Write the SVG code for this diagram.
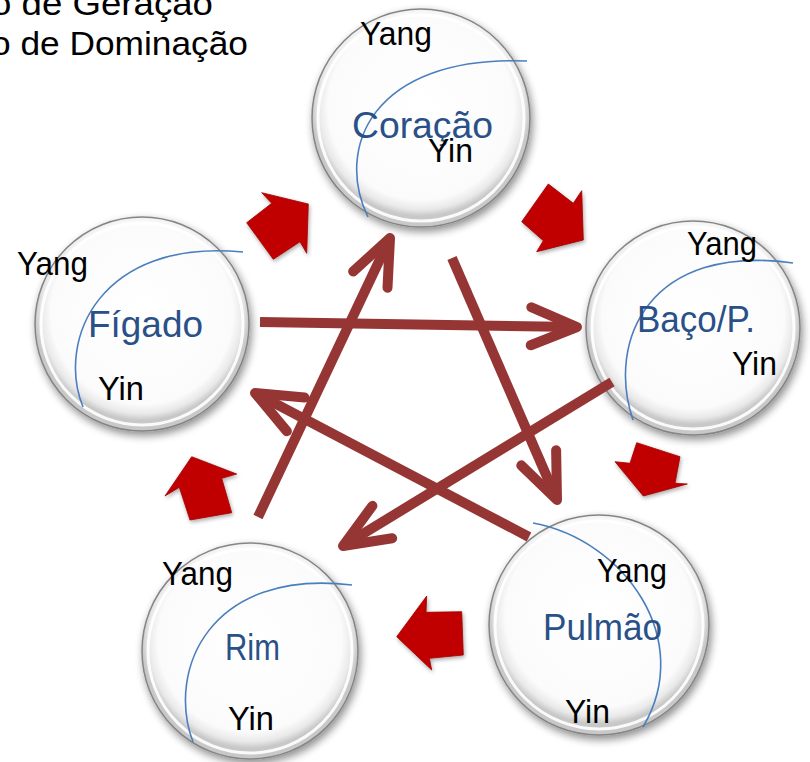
<svg xmlns="http://www.w3.org/2000/svg" width="810" height="762" viewBox="0 0 810 762">
<defs>
<radialGradient id="btn" cx="50%" cy="45%" r="50%">
<stop offset="0" stop-color="#ffffff"/>
<stop offset="0.85" stop-color="#fbfbfb"/>
<stop offset="0.94" stop-color="#e9e9e9"/>
<stop offset="1" stop-color="#c8c8c8"/>
</radialGradient>
<filter id="sh" x="-20%" y="-20%" width="140%" height="140%">
<feGaussianBlur in="SourceAlpha" stdDeviation="4"/>
<feOffset dx="2" dy="4" result="b"/>
<feComponentTransfer><feFuncA type="linear" slope="0.45"/></feComponentTransfer>
<feMerge><feMergeNode/><feMergeNode in="SourceGraphic"/></feMerge>
</filter>
<filter id="ash" x="-20%" y="-20%" width="140%" height="140%">
<feGaussianBlur in="SourceAlpha" stdDeviation="2"/>
<feOffset dx="1" dy="2" result="b"/>
<feComponentTransfer><feFuncA type="linear" slope="0.35"/></feComponentTransfer>
<feMerge><feMergeNode/><feMergeNode in="SourceGraphic"/></feMerge>
</filter>
<marker id="ah" markerUnits="userSpaceOnUse" viewBox="-60 -30 70 60" refX="0" refY="0" markerWidth="70" markerHeight="60" orient="auto" overflow="visible">
<path d="M-46,-19 L0,0 L-46,19" fill="none" stroke="#963634" stroke-width="10" stroke-linecap="round" stroke-linejoin="round"/>
</marker>
</defs>
<style>
.ring{fill:url(#btn);stroke:#858585;stroke-width:1.5}
.inner{fill:none;stroke:#ffffff;stroke-width:3;opacity:0.9}
.arc{fill:none;stroke:#4a7ebf;stroke-width:1.6}
.yy{font-family:"Liberation Sans",Arial,sans-serif;font-size:33px;fill:#000}
.org{font-family:"Liberation Sans",Arial,sans-serif;font-size:37px;fill:#2a5088}
.hdr{font-family:"Liberation Sans",Arial,sans-serif;font-size:34px;fill:#000}
.blk{fill:#c00000;stroke:#a00000;stroke-width:0.8;stroke-linejoin:miter}
.star{fill:none;stroke:#963634;stroke-width:10;marker-end:url(#ah)}
</style>

<g id="legend">
<text class="hdr" x="-9" y="15" textLength="222" lengthAdjust="spacingAndGlyphs">o de Geração</text>
<text class="hdr" x="-9" y="55" textLength="257" lengthAdjust="spacingAndGlyphs">o de Dominação</text>
</g>

<g id="node-coracao">
<circle class="ring" cx="421" cy="118" r="109" filter="url(#sh)"/>
<circle class="inner" cx="421" cy="118" r="103"/>
<path class="arc" d="M368,217 C335,150 370,55 527,61"/>
<text class="yy" x="360" y="45" textLength="72" lengthAdjust="spacingAndGlyphs">Yang</text>
<text class="org" x="352" y="138" textLength="141" lengthAdjust="spacingAndGlyphs">Coração</text>
<text class="yy" x="428" y="162" textLength="45" lengthAdjust="spacingAndGlyphs">Yin</text>
</g>

<g id="node-baco">
<circle class="ring" cx="693" cy="328" r="107" filter="url(#sh)"/>
<circle class="inner" cx="693" cy="328" r="101"/>
<path class="arc" d="M633,420 C606,340 650,243 793,263"/>
<text class="yy" x="687" y="255" textLength="70" lengthAdjust="spacingAndGlyphs">Yang</text>
<text class="org" x="637" y="332" textLength="118" lengthAdjust="spacingAndGlyphs">Baço/P.</text>
<text class="yy" x="732" y="375" textLength="45" lengthAdjust="spacingAndGlyphs">Yin</text>
</g>

<g id="node-figado">
<circle class="ring" cx="142" cy="324" r="107" filter="url(#sh)"/>
<circle class="inner" cx="142" cy="324" r="101"/>
<path class="arc" d="M83,407 C56,340 100,238 243,252"/>
<text class="yy" x="17" y="275" textLength="71" lengthAdjust="spacingAndGlyphs">Yang</text>
<text class="org" x="88" y="337" textLength="115" lengthAdjust="spacingAndGlyphs">Fígado</text>
<text class="yy" x="98" y="400" textLength="46" lengthAdjust="spacingAndGlyphs">Yin</text>
</g>

<g id="node-rim">
<circle class="ring" cx="250" cy="651" r="108" filter="url(#sh)"/>
<circle class="inner" cx="250" cy="651" r="102"/>
<path class="arc" d="M193,742 C166,670 210,568 352,585"/>
<text class="yy" x="162" y="585" textLength="71" lengthAdjust="spacingAndGlyphs">Yang</text>
<text class="org" x="225" y="660" textLength="55" lengthAdjust="spacingAndGlyphs">Rim</text>
<text class="yy" x="228" y="730" textLength="46" lengthAdjust="spacingAndGlyphs">Yin</text>
</g>

<g id="node-pulmao">
<circle class="ring" cx="599" cy="625" r="110" filter="url(#sh)"/>
<circle class="inner" cx="599" cy="625" r="104"/>
<path class="arc" d="M533,523 C625,540 695,640 643,727"/>
<text class="yy" x="597" y="582" textLength="70" lengthAdjust="spacingAndGlyphs">Yang</text>
<text class="org" x="543" y="640" textLength="119" lengthAdjust="spacingAndGlyphs">Pulmão</text>
<text class="yy" x="565" y="723" textLength="45" lengthAdjust="spacingAndGlyphs">Yin</text>
</g>

<g id="connectors">
<g id="generation" filter="url(#ash)">
<polygon class="blk" points="261.7,192.7 308.3,204 306.7,253.3 300,241.7 273.3,259.3 246.7,222.7 271.7,203.3"/>
<polygon class="blk" points="548.3,184 573.3,203.3 581.7,190.7 583.3,240 536.7,251.7 543.3,240.7 521.7,221.7"/>
<polygon class="blk" points="636.7,442.7 680,456.7 675,483.3 687.3,484 643.3,496 615,461.7 630,463.3"/>
<polygon class="blk" points="426.7,596 426,612.3 461.7,611.7 463.3,655 429.3,658.3 431.7,670 396.7,636.7"/>
<polygon class="blk" points="191.7,456.7 236.7,474 221.7,478.3 231.7,512.7 190,520 179.3,487.3 165,496"/>
</g>
<g id="domination">
<path class="star" d="M260,322 L577,327"/>
<path class="star" d="M452,258 L557,500"/>
<path class="star" d="M612,382 L343,546"/>
<path class="star" d="M529,537 L255,393"/>
<path class="star" d="M258,517 L390,238"/>
</g>
</g>
</svg>
